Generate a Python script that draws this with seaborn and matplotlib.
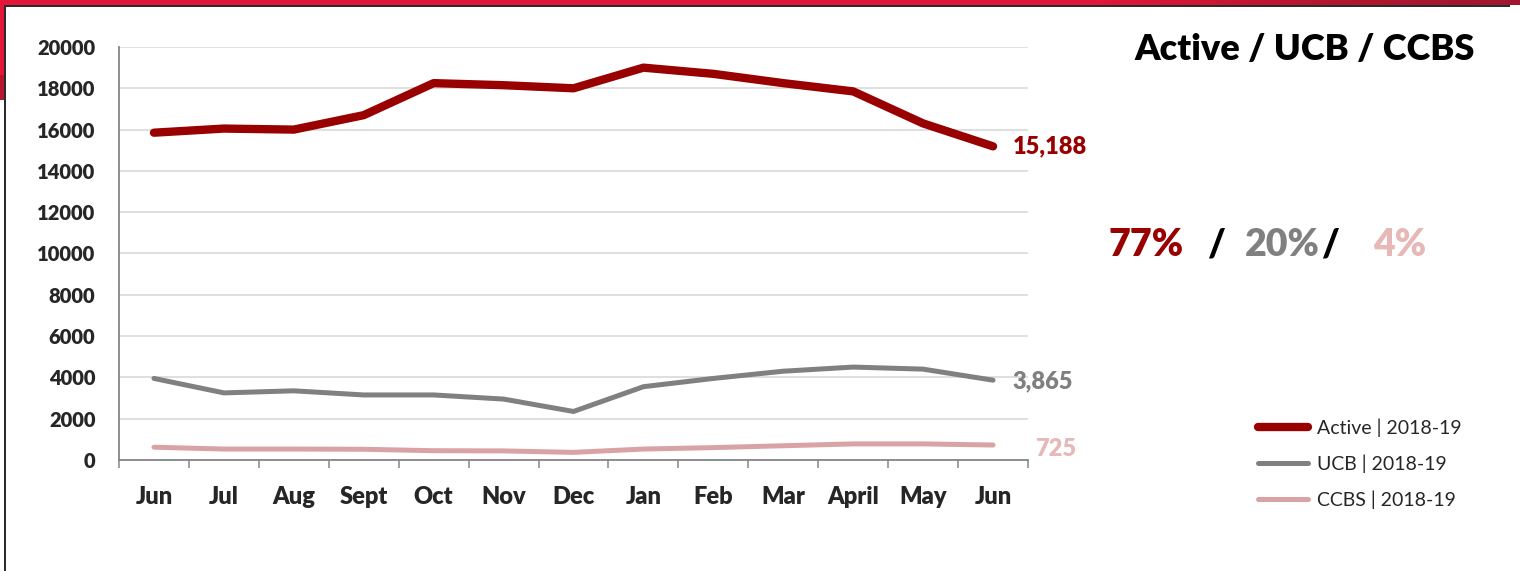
import numpy as np
import pandas as pd
import matplotlib
matplotlib.use("Agg")
import matplotlib.pyplot as plt
from matplotlib.lines import Line2D
from matplotlib.patches import Rectangle
from matplotlib.colors import LinearSegmentedColormap
import seaborn as sns

# ---------------------------------------------------------------------------
# data
# ---------------------------------------------------------------------------
months = ["Jun", "Jul", "Aug", "Sept", "Oct", "Nov", "Dec",
          "Jan", "Feb", "Mar", "April", "May", "Jun"]
active = [15850, 16050, 16000, 16700, 18250, 18150, 18000,
          19000, 18700, 18250, 17850, 16300, 15188]
ucb = [3950, 3250, 3350, 3150, 3150, 2950, 2350,
       3550, 3950, 4300, 4500, 4400, 3865]
ccbs = [620, 530, 530, 520, 450, 440, 370,
        530, 600, 690, 780, 780, 725]
series_names = ["Active | 2018-19", "UCB | 2018-19", "CCBS | 2018-19"]
y_ticks = [0, 2000, 4000, 6000, 8000, 10000, 12000,
           14000, 16000, 18000, 20000]

RED = "#990000"
GREY = "#808080"
PINK = "#D9A3A6"
PINK_TXT = "#E6B8B7"
BOLD = "heavy"

df = pd.DataFrame({"pos": np.arange(len(months)),
                   "Active": active, "UCB": ucb, "CCBS": ccbs})

sns.set_theme(style="white")
plt.rcParams["font.family"] = ["Lato", "DejaVu Sans"]

W, H = 1520, 571
fig = plt.figure(figsize=(W / 100, H / 100), dpi=100)
fig.patch.set_facecolor("white")
ax = fig.add_axes([119 / W, 1 - 460 / H, (1028 - 119) / W, (460 - 47) / H])

sns.lineplot(data=df, x="pos", y="Active", ax=ax, color=RED, lw=6.0,
             solid_capstyle="round", solid_joinstyle="round")
sns.lineplot(data=df, x="pos", y="UCB", ax=ax, color=GREY, lw=3.6,
             solid_capstyle="round", solid_joinstyle="round")
sns.lineplot(data=df, x="pos", y="CCBS", ax=ax, color=PINK, lw=3.6,
             solid_capstyle="round", solid_joinstyle="round")

# axes styling
ax.set_xlim(-0.5, len(months) - 0.5)
ax.set_ylim(0, 20000)
ax.set_yticks(y_ticks)
ax.set_yticklabels([str(t) for t in y_ticks], fontsize=14.5, fontweight=BOLD)
ax.set_xticks(np.arange(len(months)))
ax.set_xticklabels(months, fontsize=17, fontweight=BOLD)
ax.set_xticks(np.arange(len(months) + 1) - 0.5, minor=True)
ax.tick_params(axis="x", which="major", length=0, pad=19)
ax.tick_params(axis="x", which="minor", length=6, width=1.1,
               color="#868686", direction="out", bottom=True)
ax.tick_params(axis="y", length=0, pad=17)
ax.set_xlabel("")
ax.set_ylabel("")
ax.grid(axis="y", color="#D9D9D9", lw=1.2)
ax.set_axisbelow(True)
for s in ["top", "right"]:
    ax.spines[s].set_visible(False)
for s in ["left", "bottom"]:
    ax.spines[s].set_color("#868686")
    ax.spines[s].set_linewidth(1.3)

# end-of-line value labels
ax.annotate(f"{active[-1]:,}", xy=(len(months) - 1, active[-1]),
            xytext=(14, 0), textcoords="offset points", va="center",
            fontsize=17, fontweight=BOLD, color=RED, annotation_clip=False)
ax.annotate(f"{ucb[-1]:,}", xy=(len(months) - 1, ucb[-1]),
            xytext=(14, -1), textcoords="offset points", va="center",
            fontsize=17, fontweight=BOLD, color=GREY, annotation_clip=False)
ax.annotate(f"{ccbs[-1]:,}", xy=(len(months) - 1, ccbs[-1]),
            xytext=(30, -3), textcoords="offset points", va="center",
            fontsize=17, fontweight=BOLD, color=PINK_TXT,
            annotation_clip=False)

# title and share-of-total text
fig.text(1475 / W, 1 - 50 / H, "Active / UCB / CCBS", ha="right",
         va="center", fontsize=26, fontweight=BOLD, color="black")

total = active[-1] + ucb[-1] + ccbs[-1]
shares = [round(100 * v / total) for v in (active[-1], ucb[-1], ccbs[-1])]
ypct = 1 - 245 / H
fig.text(1109 / W, ypct, f"{shares[0]}%", ha="left", va="center",
         fontsize=27, fontweight=BOLD, color=RED)
fig.text(1207 / W, ypct, "/", ha="left", va="center",
         fontsize=27, fontweight=BOLD, color="black")
fig.text(1245 / W, ypct, f"{shares[1]}%", ha="left", va="center",
         fontsize=27, fontweight=BOLD, color=GREY)
fig.text(1321 / W, ypct, "/", ha="left", va="center",
         fontsize=27, fontweight=BOLD, color="black")
fig.text(1373 / W, ypct, f"{shares[2]}%", ha="left", va="center",
         fontsize=27, fontweight=BOLD, color=PINK_TXT)

# legend
handles = [Line2D([], [], color=RED, lw=6.0, solid_capstyle="round"),
           Line2D([], [], color=GREY, lw=3.6, solid_capstyle="round"),
           Line2D([], [], color=PINK, lw=3.6, solid_capstyle="round")]
fig.legend(handles, series_names, loc="center left",
           bbox_to_anchor=(1250 / W, 1 - 464 / H), frameon=False,
           fontsize=14, handlelength=2.6, handletextpad=0.45,
           labelspacing=0.9, borderaxespad=0)

# slide frame: red header strip with gradient, dark rules
cmap = LinearSegmentedColormap.from_list(
    "hdr", [(0, "#E3173A"), (0.72, "#E3173A"), (0.88, "#B3152F"), (1, "#A01530")])
hdr = fig.add_axes([0, 1 - 5 / H, 1, 5 / H])
hdr.imshow(np.linspace(0, 1, 256)[None, :], cmap=cmap, aspect="auto")
hdr.axis("off")
fig.add_artist(Rectangle((0, 1 - 7 / H), 1510 / W, 2 / H,
                         transform=fig.transFigure, color="#2B2B2B", lw=0))
fig.add_artist(Rectangle((0, 1 - 75 / H), 4 / W, 70 / H,
                         transform=fig.transFigure, color="#E3173A", lw=0))
fig.add_artist(Rectangle((0, 1 - 100 / H), 4 / W, 25 / H,
                         transform=fig.transFigure, color="#B8142F", lw=0))
fig.add_artist(Rectangle((4 / W, 0), 2 / W, 1 - 5 / H,
                         transform=fig.transFigure, color="#2B2B2B", lw=0))

fig.savefig("out.png", dpi=100)
